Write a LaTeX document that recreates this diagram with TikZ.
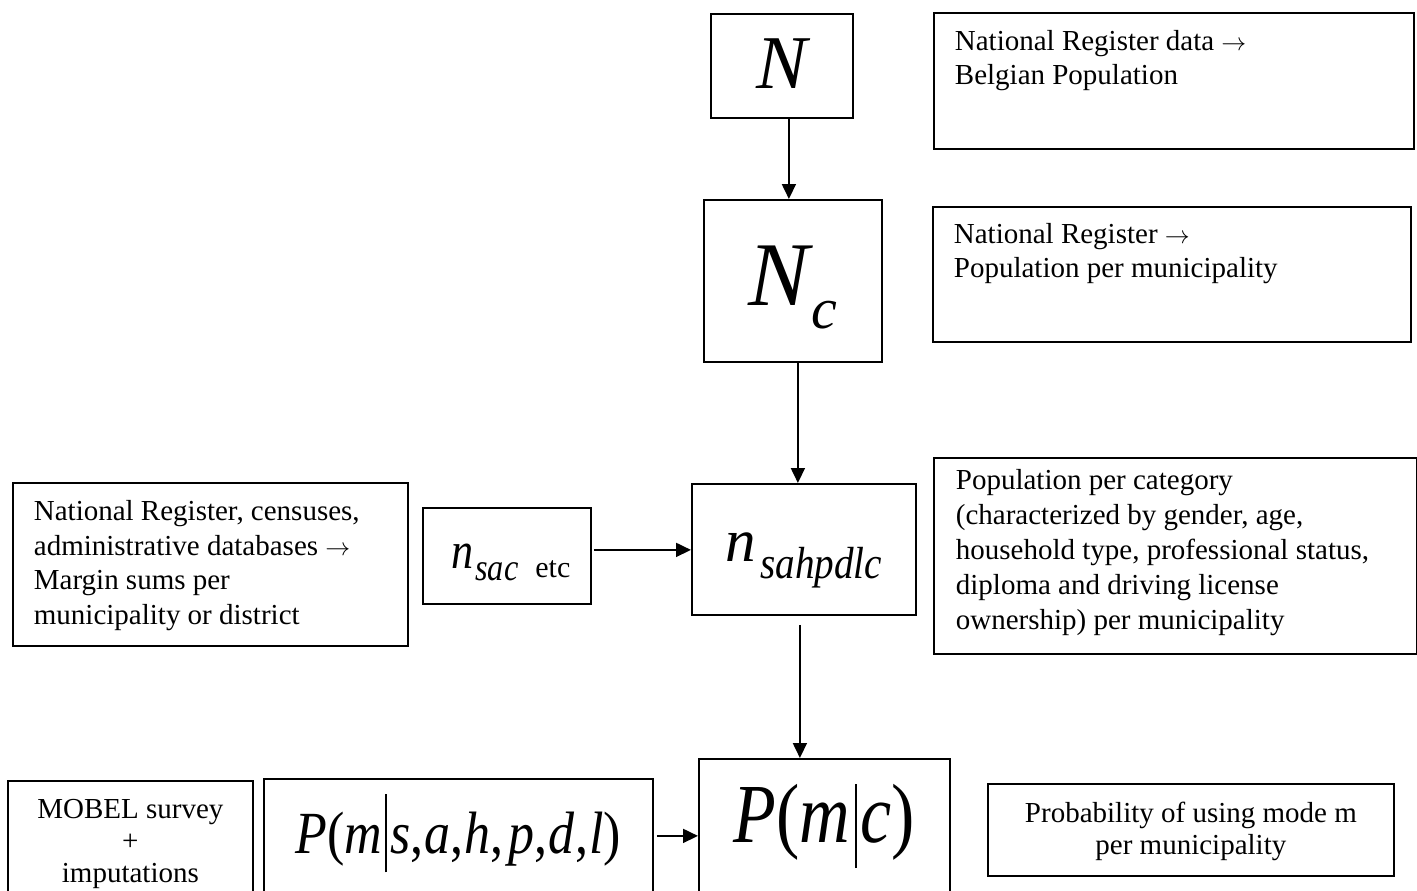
\documentclass[tikz,border=0pt]{standalone}
\usepackage{fontspec}
\setmainfont{Liberation Serif}[ItalicFont={Liberation Serif Italic}]
\newfontfamily\eqfont{Liberation Serif Italic}
\usepackage{graphicx}
\usetikzlibrary{arrows.meta}
\newcommand{\toarrow}{$\rightarrow$}
\begin{document}
\begin{tikzpicture}[x=1pt,y=-1pt,
  frame/.style={draw=black, line width=1.8pt, inner sep=0pt, anchor=north west},
  mathbox/.style={frame, font=\eqfont},
  txt/.style={frame, font=\fontsize{29}{34}\selectfont},
  arr/.style={line width=1.8pt, -{Triangle[length=15pt,width=14pt]}},
]
\path[use as bounding box] (0,0) rectangle (1417,891);
\clip (0,0) rectangle (1417,891);

% --- math boxes ---
\node[mathbox, minimum width=142pt, text height=75pt, text depth=29pt] (N) at (710,13)
  {\fontsize{76}{80}\selectfont N\hspace{14pt}};
\node[mathbox, minimum width=178pt, text height=106pt, text depth=56pt] (Nc) at (703,199)
  {\fontsize{91}{95}\selectfont N\kern2pt\raisebox{-23pt}{\fontsize{58}{60}\selectfont c}};
\node[mathbox, minimum width=224pt, text height=78pt, text depth=53pt] (nsah) at (691,483)
  {\fontsize{61}{70}\selectfont n\kern4pt\raisebox{-17pt}{\scalebox{0.87}[1]{\fontsize{45}{50}\selectfont sahpdlc}}};
\node[mathbox, minimum width=168pt, text height=61pt, text depth=35pt] (nsac) at (422,507)
  {\kern8pt\scalebox{0.85}[1]{\fontsize{52}{60}\selectfont n\kern2pt\raisebox{-12pt}{\fontsize{38}{40}\selectfont sac}}\kern17pt\raisebox{-9pt}{\fontsize{30}{34}\rmfamily\upshape etc}};
\node[mathbox, minimum width=251pt, text height=84pt, text depth=60pt] (Pmc) at (698,758)
  {\scalebox{1}[1.2]{\fontsize{70}{80}\selectfont P{\rmfamily(}m\kern4pt\rule[-21pt]{2pt}{70pt}\kern4pt c{\rmfamily)}}};
\node[mathbox, minimum width=389pt, text height=75pt, text depth=55pt] (Pms) at (263,778)
  {\scalebox{1}[1.15]{\fontsize{52}{60}\selectfont P{\rmfamily(}m\kern3pt\rule[-16pt]{2pt}{68pt}\kern3pt s{\rmfamily,}\kern1pt a{\rmfamily,}\kern1pt h{\rmfamily,}\kern5pt p{\rmfamily,}\kern1pt d\kern1pt{\rmfamily,}\kern1pt l{\rmfamily)}}};

% --- text boxes ---
\node[txt] (t1) at (933,12)
  {\hspace*{21pt}\parbox[c][136pt][t]{459pt}{\vspace*{14.2pt}\strut National Register data \toarrow\\Belgian Population}};
\node[txt] (t2) at (932,206)
  {\hspace*{21pt}\parbox[c][135pt][t]{457pt}{\vspace*{13.2pt}\strut National Register \toarrow\\Population per municipality}};
\node[txt, font=\fontsize{29}{34.5}\selectfont] (src) at (12,482)
  {\hspace*{21pt}\parbox[c][163pt][t]{374pt}{\vspace*{13.85pt}\strut National Register, censuses,\\administrative databases \toarrow\\Margin sums per\\municipality or district}};
\node[txt, font=\fontsize{29}{35}\selectfont] (t3) at (933,457)
  {\hspace*{22pt}\parbox[c][196pt][t]{461pt}{\vspace*{7.5pt}\strut Population per category\\(characterized by gender, age,\\household type, professional status,\\diploma and driving license\\ownership) per municipality}};
\node[txt, font=\fontsize{29}{32}\selectfont] (mobel) at (7,780)
  {\parbox[c][130pt][t]{245pt}{\vspace*{15.6pt}{\centering\strut MOBEL survey\\+\\imputations\par}}};
\node[txt, font=\fontsize{29}{32}\selectfont] (prob) at (987,783)
  {\parbox[c][92pt][t]{406pt}{\vspace*{16.6pt}{\centering\strut Probability of using mode m\\per municipality\par}}};

% --- connectors ---
\draw[arr] ([xshift=7pt]N.south) -- ([xshift=7pt]N.south |- Nc.north);
\draw[arr] ([xshift=5pt]Nc.south) -- ([xshift=5pt]Nc.south |- nsah.north);
\draw[arr] ([xshift=-4pt,yshift=-9pt]nsah.south) -- ([xshift=-4pt]nsah.south |- Pmc.north);
\draw[arr] ([xshift=2pt,yshift=6pt]nsac.east) -- ([yshift=6pt]nsac.east -| nsah.west);
\draw[arr] ([xshift=3pt,yshift=8pt]Pms.east) -- ([yshift=8pt]Pms.east -| Pmc.west);
\end{tikzpicture}
\end{document}
